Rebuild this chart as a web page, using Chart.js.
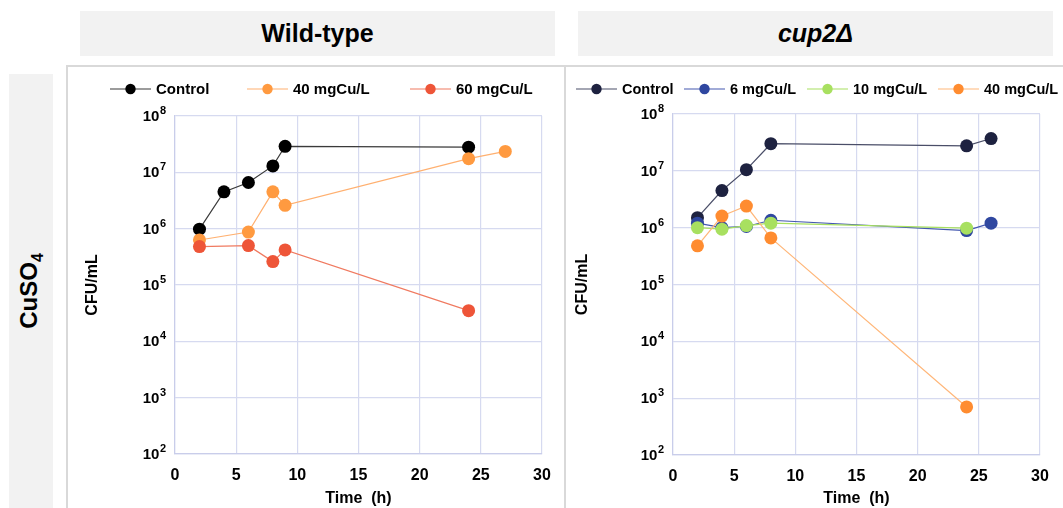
<!DOCTYPE html>
<html>
<head>
<meta charset="utf-8">
<script src="https://cdn.jsdelivr.net/npm/chart.js@4/dist/chart.umd.min.js"></script>
<style>
body { margin: 0; width: 1063px; height: 508px; background: #fff; position: relative; overflow: hidden; font-family: "Liberation Sans", Arial, sans-serif; }
.hdr { position: absolute; top: 11px; height: 45px; width: 475px; background: #f2f2f2; font-weight: bold; font-size: 25px; display: flex; align-items: center; justify-content: center; color: #000; }
.side { position: absolute; left: 9px; top: 74px; width: 44px; height: 434px; background: #f2f2f2; }
.side span { position: absolute; left: 50%; top: 50%; transform: translate(-50%, -50%) rotate(-90deg); font-weight: bold; font-size: 24px; white-space: nowrap; }
.panel { position: absolute; top: 65px; width: 497px; height: 441px; border-left: 2px solid #d9d9d9; border-top: 2px solid #d9d9d9; }
.panel canvas { position: absolute; left: 0; top: 0; }
</style>
</head>
<body>
<div class="hdr" style="left:80px">Wild-type</div>
<div class="hdr" style="left:578px"><i>cup2Δ</i></div>
<div class="side"><span>CuSO<sub style="font-size:16px">4</sub></span></div>
<div class="panel" style="left:66px"><canvas id="chartWT" width="497" height="441"></canvas></div>
<div class="panel" style="left:564px"><canvas id="chartCup" width="497" height="441"></canvas></div>

<script>
// Wild-type
var wtControlTime = [2, 4, 6, 8, 9, 24];
var wtControl = [9.8e5, 4.5e6, 6.6e6, 1.3e7, 2.9e7, 2.8e7];
var wt40Time = [2, 6, 8, 9, 24, 27];
var wt40 = [6.3e5, 8.7e5, 4.5e6, 2.6e6, 1.75e7, 2.35e7];
var wt60Time = [2, 6, 8, 9, 24];
var wt60 = [4.8e5, 5.0e5, 2.6e5, 4.2e5, 3.5e4];

// cup2 delta
var cupControlTime = [2, 4, 6, 8, 24, 26];
var cupControl = [1.5e6, 4.5e6, 1.05e7, 3.0e7, 2.75e7, 3.7e7];
var cup6Time = [2, 4, 6, 8, 24, 26];
var cup6 = [1.2e6, 1.0e6, 1.05e6, 1.35e6, 8.9e5, 1.2e6];
var cup10Time = [2, 4, 6, 8, 24];
var cup10 = [1.0e6, 9.4e5, 1.09e6, 1.2e6, 9.8e5];
var cup40Time = [2, 4, 6, 8, 24];
var cup40 = [4.8e5, 1.6e6, 2.4e6, 6.6e5, 7e2];

var exponents = [2, 3, 4, 5, 6, 7, 8];
var timeTicks = [0, 5, 10, 15, 20, 25, 30];

var fonte = '"Liberation Sans", Arial, sans-serif';

function pares(xs, ys) {
    var out = [];
    for (var i = 0; i < xs.length; i++) out.push({ x: xs[i], y: ys[i] });
    return out;
}

function serie(label, xs, ys, cor, corLinha, ordem) {
    return {
        label: label,
        data: pares(xs, ys),
        borderColor: corLinha,
        borderWidth: 1.2,
        backgroundColor: cor,
        pointBackgroundColor: cor,
        pointBorderColor: cor,
        pointBorderWidth: 0,
        pointRadius: 6.5,
        pointHoverRadius: 6.5,
        order: ordem
    };
}

// legenda desenhada a mao: linha + bolinha + texto
var legendaPlugin = {
    id: 'legendaLinha',
    afterDraw: function (chart, args, opts) {
        var ctx = chart.ctx;
        ctx.save();
        chart.data.datasets.forEach(function (ds, i) {
            var x0 = opts.xs[i];
            var y = opts.y;
            ctx.strokeStyle = ds.borderColor;
            ctx.lineWidth = 1.2;
            ctx.beginPath();
            ctx.moveTo(x0, y);
            ctx.lineTo(x0 + 41, y);
            ctx.stroke();
            ctx.fillStyle = ds.pointBackgroundColor;
            ctx.beginPath();
            ctx.arc(x0 + 20.5, y, 5.2, 0, Math.PI * 2);
            ctx.fill();
            ctx.fillStyle = '#000';
            ctx.font = 'bold ' + opts.size + 'px ' + fonte;
            ctx.textBaseline = 'middle';
            ctx.textAlign = 'left';
            ctx.fillText(ds.label, x0 + 46, y + 1);
        });
        ctx.restore();
    }
};

// rotulos 10^n com expoente
var potenciaPlugin = {
    id: 'potencias',
    afterDraw: function (chart) {
        var ctx = chart.ctx;
        var y = chart.scales.y;
        ctx.save();
        ctx.fillStyle = '#000';
        ctx.textBaseline = 'middle';
        exponents.forEach(function (e) {
            var py = y.getPixelForValue(Math.pow(10, e));
            var right = chart.chartArea.left - 9;
            ctx.font = 'bold 11px ' + fonte;
            ctx.textAlign = 'right';
            ctx.fillText(String(e), right, py - 5);
            var w = ctx.measureText(String(e)).width;
            ctx.font = 'bold 15px ' + fonte;
            ctx.fillText('10', right - w - 0.5, py + 1);
        });
        ctx.restore();
    }
};

function CriarGrafico(id, datasets, legendaXs, legendaTam, topo, base, tituloPad) {
    var ctx = document.getElementById(id).getContext('2d');
    return new Chart(ctx, {
        type: 'line',
        data: { datasets: datasets },
        plugins: [legendaPlugin, potenciaPlugin],
        options: {
            responsive: false,
            animation: false,
            layout: { padding: { top: topo, right: 23, left: 0, bottom: 0 } },
            plugins: {
                legend: { display: false },
                tooltip: { enabled: false },
                legendaLinha: { xs: legendaXs, y: 22, size: legendaTam }
            },
            scales: {
                x: {
                    type: 'linear',
                    min: 0,
                    max: 30,
                    afterBuildTicks: function (s) { s.ticks = timeTicks.map(function (v) { return { value: v }; }); },
                    afterFit: function (s) { s.height = base; },
                    grid: { color: '#d6daf0', lineWidth: 1.2, drawTicks: false },
                    border: { color: '#c9cdea', width: 1.2 },
                    ticks: { padding: 12, color: '#000', font: { family: fonte, size: 16, weight: 'bold' } },
                    title: { display: true, text: 'Time  (h)', color: '#000', padding: { top: 0, bottom: 0 }, font: { family: fonte, size: 16, weight: 'bold' } }
                },
                y: {
                    type: 'logarithmic',
                    min: 100,
                    max: 1e8,
                    afterBuildTicks: function (s) { s.ticks = exponents.map(function (e) { return { value: Math.pow(10, e) }; }); },
                    afterFit: function (s) { s.width = 107; },
                    grid: { color: '#d6daf0', lineWidth: 1.2, drawTicks: false },
                    border: { color: '#c9cdea', width: 1.2 },
                    ticks: { display: false },
                    title: { display: true, text: 'CFU/mL', color: '#000', padding: { top: tituloPad, bottom: 0 }, font: { family: fonte, size: 16, weight: 'bold' } }
                }
            }
        }
    });
}

CriarGrafico('chartWT', [
    serie('Control', wtControlTime, wtControl, '#000000', '#3a3a3a', 3),
    serie('40 mgCu/L', wt40Time, wt40, '#ff9a40', '#ffb070', 2),
    serie('60 mgCu/L', wt60Time, wt60, '#ee5538', '#f07a60', 1)
], [42, 179, 342], 15, 49, 54, 15);

CriarGrafico('chartCup', [
    serie('Control', cupControlTime, cupControl, '#1e2240', '#4a4e68', 4),
    serie('6 mgCu/L', cup6Time, cup6, '#2f47a0', '#4458b0', 3),
    serie('10 mgCu/L', cup10Time, cup10, '#a8e060', '#a8e060', 2),
    serie('40 mgCu/L', cup40Time, cup40, '#ff8c30', '#ffb77a', 1)
], [10, 118, 241, 372], 14.5, 47, 53, 7);
</script>
</body>
</html>
